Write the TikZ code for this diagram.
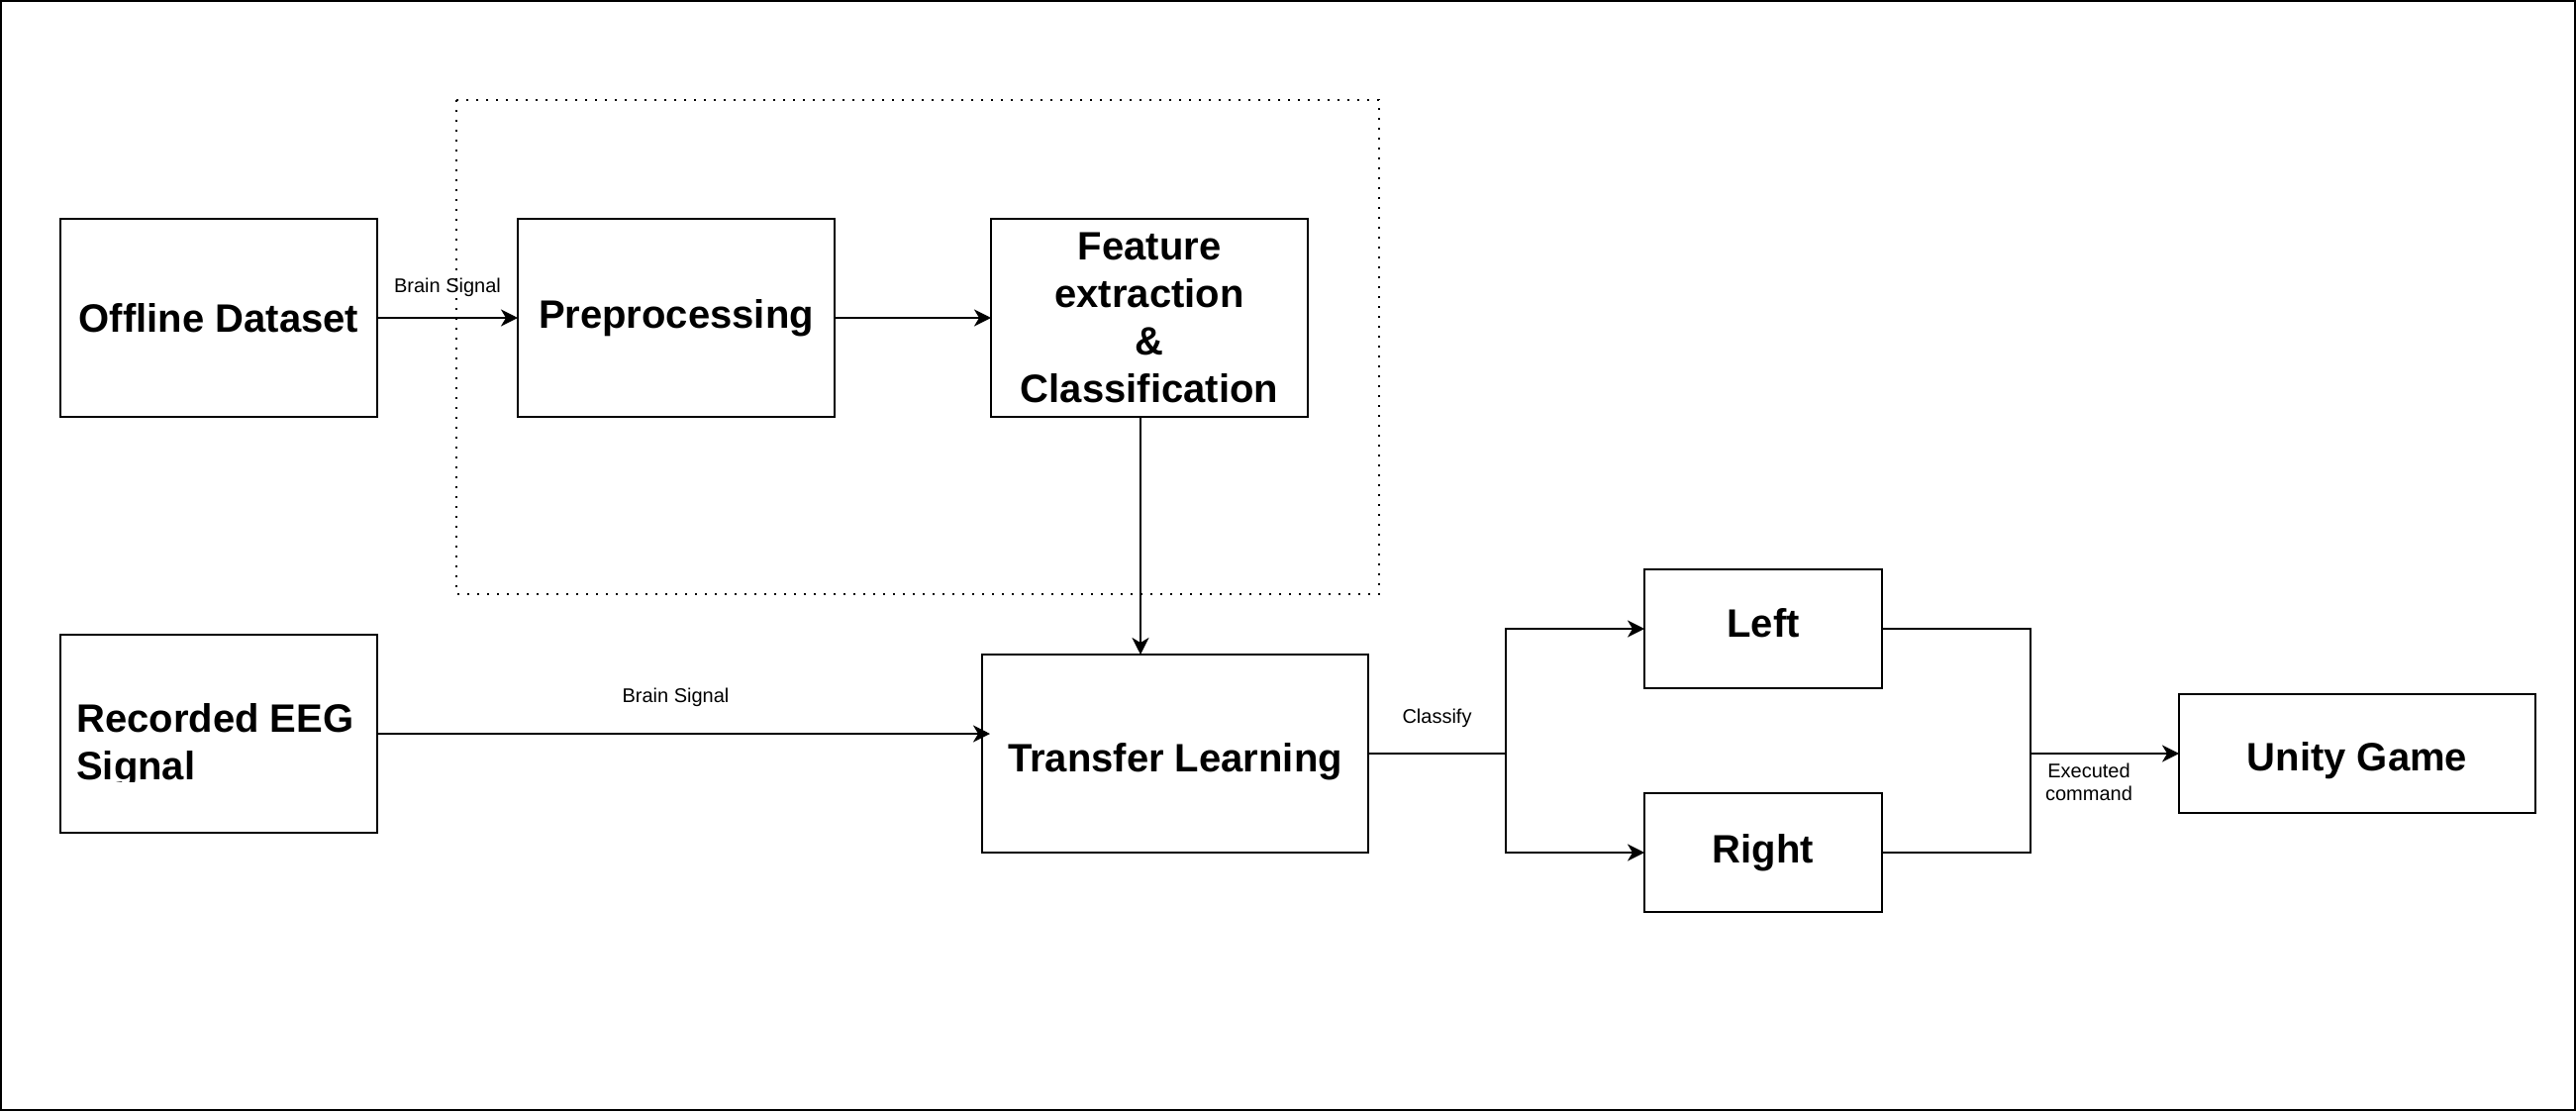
\documentclass[tikz,border=0pt]{standalone}
\usepackage{fontspec}
\setmainfont{Liberation Sans}
\usetikzlibrary{arrows.meta,calc}
\begin{document}
\begin{tikzpicture}[x=1pt,y=-1pt,
  box/.style={draw=black,line width=2pt,fill=white,inner sep=0pt,outer sep=0pt,
    font=\bfseries\fontsize{40}{48}\selectfont,align=center},
  conn/.style={draw=black,line width=2pt},
  arr/.style={conn,-{Stealth[length=17pt,width=17pt,inset=5pt]}},
  lbl/.style={font=\fontsize{20}{23}\selectfont,inner sep=0pt,align=center,text=black},
  groupbox/.style={draw=black,line width=2pt,dash pattern=on 2pt off 8pt}]
\useasboundingbox (0,0) rectangle (2602,1122);
\draw[line width=2pt] (1,1) rectangle (2601,1121);
% dotted group
\draw[groupbox] (461,101) rectangle (1393,600);
% boxes
\node[box,minimum width=320pt,minimum height=200pt] (off) at (221,321) {Offline Dataset};
\node[box,minimum width=320pt,minimum height=200pt] (pre) at (683,321) {Preprocessing};
\node[box,minimum width=320pt,minimum height=200pt] (fea) at (1161,321) {Feature\\extraction\\\&\\Classification};
\node[box,minimum width=320pt,minimum height=200pt] (rec) at (221,741) {};
\begin{scope}
  \clip (61,641) rectangle (381,789);
  \node[anchor=base west,inner sep=0pt,align=left,font=\bfseries\fontsize{40}{48}\selectfont] (rectxt) at (77,787) {Recorded EEG\\Signal};
\end{scope}
\node[box,minimum width=390pt,minimum height=200pt,text height=44pt,text depth=8pt] (tl) at (1187,761) {Transfer Learning};
\node[box,minimum width=240pt,minimum height=120pt,text height=16pt,text depth=0pt] (left) at (1781,635) {Left};
\node[box,minimum width=240pt,minimum height=120pt] (right) at (1781,861) {Right};
\node[box,minimum width=360pt,minimum height=120pt,text height=42pt,text depth=8pt] (unity) at (2381,761) {Unity Game};
\coordinate (br) at (1521,761);
\coordinate (jn) at (2051,761);
% connectors
\draw[arr] (off.east) -- node[lbl,midway,yshift=31pt] {Brain Signal} (pre.west);
\draw[arr] (pre.east) -- (fea.west);
\draw[arr] ([xshift=-9pt]fea.south) -- ([xshift=-9pt]fea.south |- tl.north);
\draw[arr] (rec.east) -- node[lbl,midway,xshift=-8pt,yshift=37pt] {Brain Signal} ([xshift=8pt]tl.west |- rec.east);
\draw[conn] (tl.east) -- node[lbl,midway,yshift=36pt] {Classify} (br);
\draw[arr] (br) |- (left.west);
\draw[arr] (br) |- (right.west);
\draw[conn] (left.east) -| (jn);
\draw[conn] (right.east) -| (jn);
\draw[arr] (jn) -- node[lbl,midway,xshift=-16pt,yshift=-29pt] {Executed\\command} (unity.west);
\end{tikzpicture}
\end{document}
